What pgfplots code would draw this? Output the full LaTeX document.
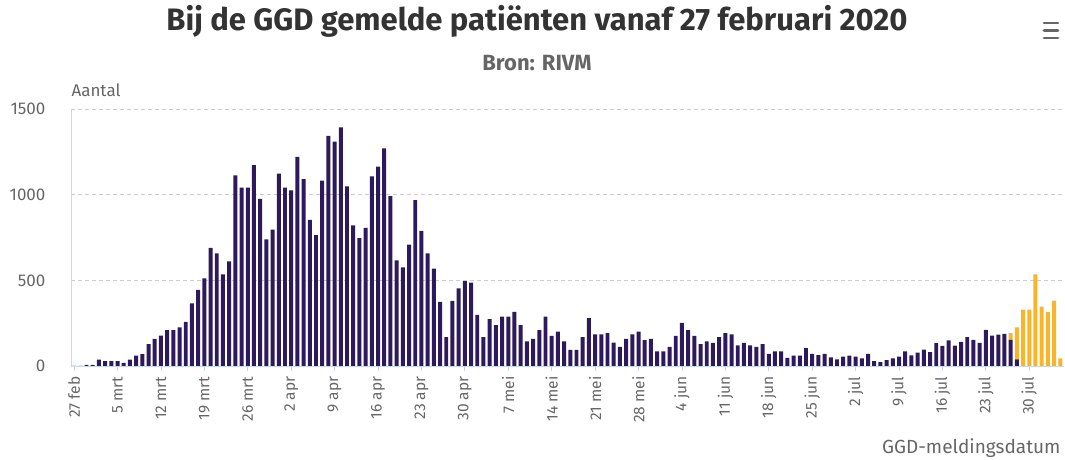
\documentclass[border=0pt]{standalone}
\usepackage{pgfplots}
\pgfplotsset{compat=1.18}
\usepackage{pgfplotstable}
\usepackage{fontspec}
\setmainfont{Fira Sans}
\definecolor{barblue}{RGB}{44,26,92}
\definecolor{barorange}{RGB}{250,180,40}
\definecolor{txtgray}{RGB}{102,102,102}
\definecolor{ttl}{RGB}{51,51,51}
\definecolor{axisline}{RGB}{204,214,235}
\definecolor{gridc}{RGB}{205,205,205}

\pgfplotstableread{
d a b
0 1 0
1 1 0
2 6 0
3 6 0
4 37 0
5 29 0
6 29 0
7 29 0
8 18 0
9 37 0
10 61 0
11 69 0
12 127 0
13 159 0
14 178 0
15 210 0
16 210 0
17 225 0
18 257 0
19 365 0
20 445 0
21 512 0
22 690 0
23 657 0
24 535 0
25 610 0
26 1113 0
27 1041 0
28 1041 0
29 1172 0
30 976 0
31 739 0
32 796 0
33 1123 0
34 1041 0
35 1025 0
36 1221 0
37 1090 0
38 853 0
39 764 0
40 1082 0
41 1343 0
42 1309 0
43 1392 0
44 1049 0
45 821 0
46 747 0
47 806 0
48 1107 0
49 1164 0
50 1270 0
51 992 0
52 617 0
53 576 0
54 708 0
55 968 0
56 788 0
57 657 0
58 568 0
59 374 0
60 169 0
61 380 0
62 453 0
63 496 0
64 486 0
65 298 0
66 169 0
67 274 0
68 239 0
69 288 0
70 288 0
71 316 0
72 239 0
73 143 0
74 159 0
75 210 0
76 288 0
77 176 0
78 200 0
79 143 0
80 94 0
81 94 0
82 169 0
83 280 0
84 184 0
85 184 0
86 192 0
87 137 0
88 112 0
89 159 0
90 184 0
91 200 0
92 151 0
93 159 0
94 86 0
95 86 0
96 112 0
97 176 0
98 251 0
99 210 0
100 176 0
101 127 0
102 143 0
103 135 0
104 169 0
105 192 0
106 184 0
107 120 0
108 135 0
109 120 0
110 112 0
111 127 0
112 71 0
113 86 0
114 86 0
115 47 0
116 61 0
117 61 0
118 104 0
119 71 0
120 63 0
121 71 0
122 51 0
123 39 0
124 55 0
125 61 0
126 55 0
127 45 0
128 71 0
129 29 0
130 22 0
131 35 0
132 45 0
133 55 0
134 85 0
135 62 0
136 78 0
137 95 0
138 81 0
139 134 0
140 118 0
141 149 0
142 119 0
143 141 0
144 169 0
145 153 0
146 135 0
147 211 0
148 178 0
149 183 0
150 187 0
151 153 39
152 39 186
153 0 329
154 0 329
155 0 535
156 0 346
157 0 315
158 0 382
159 0 45
}\datatable

\begin{document}
\begin{tikzpicture}[x=1pt,y=1pt]
\useasboundingbox (0,0) rectangle (1065,460);
\node[font=\fontsize{31}{35}\selectfont\bfseries, text=ttl] at (537,439) {Bij de GGD gemelde patiënten vanaf 27 februari 2020};
\node[font=\fontsize{22}{25}\selectfont\bfseries, text=txtgray] at (537,397) {Bron: RIVM};
\foreach \yy in {437,429.5,422}{\draw[txtgray, line width=2.8pt, line cap=round] (1044,\yy) -- (1058,\yy);}
\begin{axis}[
  at={(71pt,94pt)}, anchor=south west,
  scale only axis, width=993pt, height=257pt,
  xmin=-0.5, xmax=159.6, ymin=0, ymax=1500,
  ybar stacked, bar width=0.64,
  axis line style={draw=axisline, line width=0.8pt},
  axis x line*=bottom, axis y line*=left,
  ytick={0,500,1000,1500},
  ymajorgrids, grid style={gridc, dash pattern=on 4pt off 3pt, line width=0.7pt},
  y axis line style={draw=axisline},
  ytick style={draw=none},
  xtick={0,7,...,154},
  xticklabels={27 feb,5 mrt,12 mrt,19 mrt,26 mrt,2 apr,9 apr,16 apr,23 apr,30 apr,7 mei,14 mei,21 mei,28 mei,4 jun,11 jun,18 jun,25 jun,2 jul,9 jul,16 jul,23 jul,30 jul},
  xtick style={draw=axisline, line width=0.8pt},
  tick align=outside, major tick length=5pt,
  /pgf/number format/assume math mode=true,
  /pgf/number format/1000 sep={},
  yticklabel style={font=\fontsize{17}{20}\selectfont, text=txtgray, anchor=east, xshift=-17pt},
  xticklabel style={font=\fontsize{15.5}{18}\selectfont, text=txtgray, rotate=90, anchor=east, xshift=-2pt},
  ylabel={Aantal},
  every axis y label/.style={at={(rel axis cs:0,1)}, anchor=south west, font=\fontsize{17}{20}\selectfont, text=txtgray, yshift=9pt, xshift=-3pt},
  xlabel={GGD-meldingsdatum},
  every axis x label/.style={at={(rel axis cs:1,0)}, anchor=north east, font=\fontsize{19}{22}\selectfont, text=txtgray, yshift=-69pt, xshift=0pt},
  clip=false,
]
\addplot[fill=barblue, draw=none] table[x=d, y=a] {\datatable};
\addplot[fill=barorange, draw=none] table[x=d, y=b] {\datatable};
\end{axis}
\end{tikzpicture}
\end{document}
